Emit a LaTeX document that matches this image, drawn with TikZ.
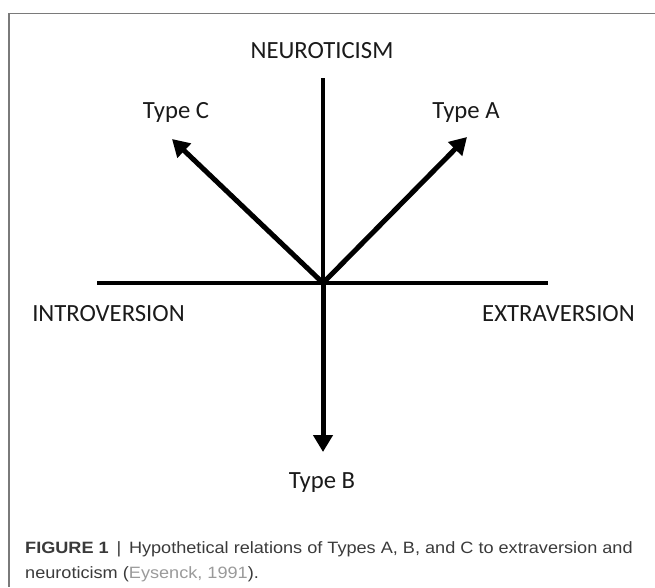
\documentclass[tikz,border=0pt]{standalone}
\usepackage{fontspec}
\setmainfont{Carlito}
\newfontfamily\capfont[FakeStretch=1.105]{Liberation Sans}
\usetikzlibrary{arrows.meta}
\definecolor{framegray}{HTML}{7A7A7A}
\definecolor{capgray}{HTML}{3A3A3A}
\definecolor{refgray}{HTML}{9A9A9A}
\definecolor{txt}{HTML}{1A1A1A}
\tikzset{
  axisline/.style={line width=4pt, black},
  typearrow/.style={line width=5pt, black, -{Triangle[width=19pt,length=17pt]}},
  lbl/.style={font=\fontsize{24.7}{29}\selectfont, text=txt, inner sep=0pt, anchor=base},
  captext/.style={font=\capfont\fontsize{16.4}{20}\selectfont, text=capgray, inner sep=0pt, anchor=base west},
}
\begin{document}
\begin{tikzpicture}[x=1pt,y=-1pt]
\useasboundingbox (0,0) rectangle (655,587);
% frame
\draw[framegray, line width=1.3pt] (655,13.5) -- (9,13.5) -- (9,587);
% coordinates
\coordinate (O) at (323,283);
\coordinate (top) at (323,78);
\coordinate (left) at (97,283);
\coordinate (right) at (548,283);
\coordinate (tipA) at (467,137);
\coordinate (tipC) at (172,139);
\coordinate (tipB) at (323,452);
% axes
\draw[axisline] (left) -- (right);
\draw[axisline] (O) -- (top);
% arrows
\draw[typearrow] (O) -- (tipA);
\draw[typearrow] (O) -- (tipC);
\draw[typearrow] (O) -- (tipB);
% labels
\node[lbl] (neur) at (322,58) {NEUROTICISM};
\node[lbl] (typeC) at (176,118) {Type C};
\node[lbl] (typeA) at (466,118) {Type A};
\node[lbl] (intro) at (108.5,321) {INTROVERSION};
\node[lbl] (extra) at (558.5,321) {EXTRAVERSION};
\node[lbl] (typeB) at (322,488) {Type B};
% caption
\node[captext] (cap1) at (25,553) {\textbf{FIGURE 1} \,|\, Hypothetical relations of Types A, B, and C to extraversion and};
\node[captext] (cap2) at (25,578) {neuroticism (\textcolor{refgray}{Eysenck, 1991}).};
\end{tikzpicture}
\end{document}
